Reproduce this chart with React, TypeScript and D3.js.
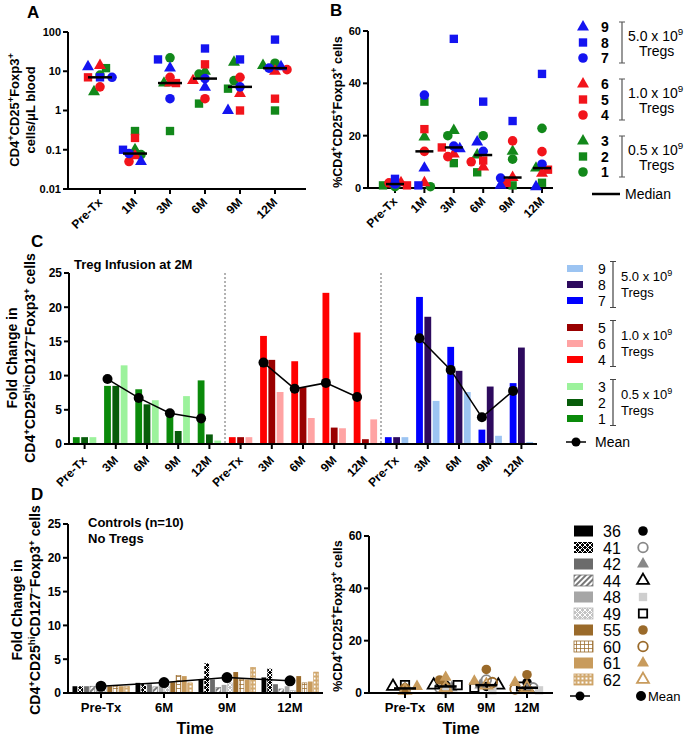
import React from 'react';
import * as d3 from 'd3';

const FONT = "'Liberation Sans', Arial, Helvetica, sans-serif";

// ---- panels A & B: Treg recipients 1-9 ----
const timesAB = ['Pre-Tx', '1M', '3M', '6M', '9M', '12M'];
const subjects = ['1', '2', '3', '4', '5', '6', '7', '8', '9'];
// CD4+CD25+Foxp3+ cells/uL blood, one row per subject, columns follow timesAB
const countA = [
  [8, 0.075, 22, 8.5, 5.8, 16],
  [12, 0.3, 0.3, 1.5, 3.6, 1],
  [3, 0.1, 5, 10, 17, 14],
  [4, 0.05, 7, 2, 7, 11],
  [7, 0.2, 5, 15, 1, 2],
  [14, 0.07, 5, 5.8, 2.7, 10],
  [7, 0.08, 2, 6.5, 4, 12],
  [7, 0.1, 20, 38, 20, 64],
  [13, 0.05, 12, 3.9, 1, 13],
];
// %CD4+CD25+Foxp3+ cells
const pctB = [
  [0.5, 0.5, 20, 20, 11, 22.8],
  [1, 33, 9.5, 6, 1, 2],
  [1.5, 19.5, 22, 12.6, 14, 7.6],
  [2, 14, 12, 10, 18, 13.9],
  [1, 22.5, 15.5, 10.5, 2, 7],
  [2, 2, 13, 8, 4, 5.6],
  [1.5, 35.5, 16, 14, 3.8, 9.1],
  [3.5, 1, 57, 33, 25.6, 43.6],
  [2, 7.6, 15, 17.6, 1, 0.5],
];
const doseText = ['5.0', '1.0', '0.5'];
const legendGroupsB = [['9', '8', '7'], ['6', '5', '4'], ['3', '2', '1']];

// ---- panel C: fold change per subject ----
const timesC = ['Pre-Tx', '3M', '6M', '9M', '12M'];
const groupsC = [['1', '2', '3'], ['4', '5', '6'], ['7', '8', '9']];
const foldC: Record<string, number[]> = {
  '1': [1, 8.5, 8.0, 4.6, 9.3],
  '2': [1, 8.5, 5.8, 1.9, 1.4],
  '3': [1, 11.5, 6.4, 7.0, 0.5],
  '4': [1, 15.8, 12.1, 22.1, 16.3],
  '5': [1, 12.3, 8.3, 2.4, 0.7],
  '6': [1, 7.6, 3.8, 2.3, 3.6],
  '7': [1, 21.5, 14.2, 2.1, 8.9],
  '8': [1, 18.6, 10.7, 8.4, 14.1],
  '9': [1, 6.3, 7.6, 1.2, 0.3],
};
const legendGroupsC = [['9', '8', '7'], ['5', '6', '4'], ['3', '2', '1']];

// ---- panel D: controls ----
const controls = ['36', '41', '42', '44', '48', '49', '55', '60', '61', '62'];
const timesD = ['Pre-Tx', '6M', '9M', '12M'];
const foldD = [
  [1, 1.5, 2.0, 2.3],
  [1, 1.4, 4.4, 3.6],
  [1, 1.3, 2.0, 1.3],
  [1, 0.9, 0.8, 0.6],
  [1, 1.2, 1.2, 1.0],
  [1, 1.0, 1.5, 0.4],
  [1, 1.6, 3.1, 2.5],
  [1, 2.6, 2.0, 1.5],
  [1, 2.5, 2.0, 1.7],
  [1, 1.5, 3.8, 3.1],
];
const pctD = [
  [1, 3, 2.5, 4],
  [1.5, 2, 5, 2],
  [2, 2, 3, 2],
  [2.5, 3, 3, 2],
  [1, 1, 1, 1],
  [3, 3, 2, 2.5],
  [2, 5, 9, 7],
  [1.5, 2, 4, 1.5],
  [2.5, 6, 4.5, 4],
  [1, 2, 3, 2],
];

// styles
const GREEN = '#12881a', RED = '#f2141b', BLUE = '#1414f0';
const colorOf: Record<string, string> = { '1': GREEN, '2': GREEN, '3': GREEN, '4': RED, '5': RED, '6': RED, '7': BLUE, '8': BLUE, '9': BLUE };
const shapeOf: Record<string, string> = { '1': 'circle', '2': 'square', '3': 'triangle', '4': 'circle', '5': 'square', '6': 'triangle', '7': 'circle', '8': 'square', '9': 'triangle' };
const barColor: Record<string, string> = {
  '1': '#0a8a0a', '2': '#075c0a', '3': '#9cf29c',
  '4': '#ff0000', '5': '#990000', '6': '#ffa3a3',
  '7': '#0000ff', '8': '#2d0a5e', '9': '#9cc4f2',
};
const ctrlFill = ['#000', 'url(#p41)', '#6b6b6b', 'url(#p44)', '#a6a6a6', 'url(#p49)', '#9a6a2a', 'url(#p60)', '#c89b5c', 'url(#p62)'];
const ctrlStroke = ['none', 'none', 'none', '#777', 'none', '#bbb', 'none', '#9a6a2a', 'none', '#c89b5c'];
const ctrlSym = [
  { shape: 'circle', fill: '#000', stroke: 'none' },
  { shape: 'circle', fill: 'none', stroke: '#888' },
  { shape: 'triangle', fill: '#888', stroke: 'none' },
  { shape: 'triangle', fill: 'none', stroke: '#000' },
  { shape: 'square', fill: '#cfcfcf', stroke: 'none' },
  { shape: 'square', fill: 'none', stroke: '#000' },
  { shape: 'circle', fill: '#9a6a2a', stroke: 'none' },
  { shape: 'circle', fill: 'none', stroke: '#9a6a2a' },
  { shape: 'triangle', fill: '#c89b5c', stroke: 'none' },
  { shape: 'triangle', fill: 'none', stroke: '#c89b5c' },
];

const SYM_SIZE: Record<string, number> = { circle: 72, square: 70, triangle: 62 };
function symbolPath(shape: string, size?: number) {
  const t = shape === 'square' ? d3.symbolSquare : shape === 'triangle' ? d3.symbolTriangle : d3.symbolCircle;
  return d3.symbol().type(t).size(size ?? SYM_SIZE[shape])() as string;
}

// spread overlapping points sideways, like a column scatter
function dodge(ys: number[], gap = 6.5, step = 6) {
  const order = ys.map((_, i) => i).sort((a, b) => ys[a] - ys[b]);
  const placed: { x: number; y: number }[] = [];
  const offs = ys.map(() => 0);
  const cands = [0, -step, step, -2 * step, 2 * step];
  for (const i of order) {
    let pick = 0;
    for (const c of cands) {
      if (placed.every(p => Math.hypot(p.x - c, p.y - ys[i]) >= gap)) { pick = c; break; }
    }
    offs[i] = pick;
    placed.push({ x: pick, y: ys[i] });
  }
  return offs;
}

type Part = [string, number];
function Rich({ parts, size, ...rest }: any) {
  let cur = 0;
  return (
    <text fontSize={size} {...rest}>
      {parts.map(([s, k]: Part, i: number) => {
        const target = k === 1 ? -size * 0.38 : 0;
        const dy = target - cur;
        cur = target;
        return <tspan key={i} dy={dy} fontSize={k ? size * 0.7 : size}>{s}</tspan>;
      })}
    </text>
  );
}

const ttlCells: Part[] = [['CD4', 0], ['+', 1], ['CD25', 0], ['+', 1], ['Foxp3', 0], ['+', 1]];
const ttlPct: Part[] = [['%CD4', 0], ['+', 1], ['CD25', 0], ['+', 1], ['Foxp3', 0], ['+', 1], [' cells', 0]];
const ttlFold: Part[] = [['CD4', 0], ['+', 1], ['CD25', 0], ['hi', 1], ['CD127', 0], ['−', 1], ['Foxp3', 0], ['+', 1], [' cells', 0]];

function YAxis({ x, scale, ticks, fmt, fontSize = 12 }: any) {
  const r = scale.range();
  return (
    <g>
      <line x1={x} x2={x} y1={Math.min(...r)} y2={Math.max(...r)} stroke="#000" strokeWidth={2} />
      {ticks.map((t: number) => (
        <g key={t}>
          <line x1={x - 5} x2={x} y1={scale(t)} y2={scale(t)} stroke="#000" strokeWidth={2} />
          <text x={x - 7} y={scale(t)} dy="0.36em" textAnchor="end" fontWeight="bold" fontSize={fontSize}>{fmt(t)}</text>
        </g>
      ))}
    </g>
  );
}

function XAxisLine({ y, x0, x1, ticks }: any) {
  return (
    <g>
      <line x1={x0} x2={x1} y1={y} y2={y} stroke="#000" strokeWidth={2} />
      {ticks.map((t: number, i: number) => (
        <line key={i} x1={t} x2={t} y1={y} y2={y + 5} stroke="#000" strokeWidth={2} />
      ))}
    </g>
  );
}

function RotLabels({ y, xs, labels, fontSize = 12, dy = 14 }: any) {
  return (
    <g>
      {labels.map((l: string, i: number) => (
        <text key={i} transform={`translate(${xs[i] + 3},${y + dy}) rotate(-45)`} textAnchor="end" fontWeight="bold" fontSize={fontSize}>{l}</text>
      ))}
    </g>
  );
}

function Scatter({ xScale, yScale, rows, times, shapes, fills, strokes, medianHalf }: any) {
  return (
    <g>
      {times.map((t: string, ti: number) => {
        const ys = rows.map((r: number[]) => yScale(r[ti]));
        const offs = dodge(ys);
        const cx = xScale(t);
        const med = d3.median(rows.map((r: number[]) => r[ti])) as number;
        return (
          <g key={t}>
            {rows.map((r: number[], si: number) => (
              <path key={si} d={symbolPath(shapes[si])} transform={`translate(${cx + offs[si]},${ys[si]})`}
                fill={fills[si]} stroke={strokes[si]} strokeWidth={strokes[si] === 'none' ? 0 : 1.8} />
            ))}
            <line x1={cx - medianHalf} x2={cx + medianHalf} y1={yScale(med)} y2={yScale(med)} stroke="#000" strokeWidth={2.5} />
          </g>
        );
      })}
    </g>
  );
}

export default function App() {
  // A
  const xA = d3.scalePoint().domain(timesAB).range([100, 275]);
  const yA = d3.scaleLog().domain([0.01, 100]).range([189, 32]);
  // B
  const xB = d3.scalePoint().domain(timesAB).range([395, 542]);
  const yB = d3.scaleLinear().domain([0, 60]).range([188, 31]);
  // C
  const idsC = groupsC.flatMap((_, g) => timesC.map(t => `${g}|${t}`));
  const xC = d3.scalePoint().domain(idsC).range([84.6, 521.4]);
  const yC = d3.scaleLinear().domain([0, 25]).range([444, 273]);
  // D
  const xDL = d3.scalePoint().domain(timesD).range([101, 290]);
  const yDL = d3.scaleLinear().domain([0, 25]).range([693, 524]);
  const xDR = d3.scalePoint().domain(timesD).range([405, 527]);
  const yDR = d3.scaleLinear().domain([0, 60]).range([693, 536]);

  const lineGen = d3.line<[number, number]>();
  const barStep = 8.3, barW = 6.8;
  const dStep = 5.8, dW = 4.8;

  const subjFills = subjects.map(s => colorOf[s]);
  const subjShapes = subjects.map(s => shapeOf[s]);

  return (
    <svg width={685} height={737} fontFamily={FONT} style={{ position: 'fixed', left: 0, top: 0 }}>
      <defs>
        <pattern id="p41" width="5" height="5" patternUnits="userSpaceOnUse">
          <rect width="5" height="5" fill="#000" />
          <path d="M0,0L5,5M5,0L0,5" stroke="#fff" strokeWidth="1" />
        </pattern>
        <pattern id="p44" width="4" height="4" patternUnits="userSpaceOnUse" patternTransform="rotate(45)">
          <rect width="4" height="4" fill="#fff" />
          <rect width="2" height="4" fill="#777" />
        </pattern>
        <pattern id="p49" width="5" height="5" patternUnits="userSpaceOnUse">
          <rect width="5" height="5" fill="#c4c4c4" />
          <path d="M0,0L5,5M5,0L0,5" stroke="#fff" strokeWidth="1" />
        </pattern>
        <pattern id="p60" width="4" height="4" patternUnits="userSpaceOnUse">
          <rect width="4" height="4" fill="#fff" />
          <path d="M0,0H4M0,0V4" stroke="#9a6a2a" strokeWidth="1.5" />
        </pattern>
        <pattern id="p62" width="4" height="4" patternUnits="userSpaceOnUse">
          <rect width="4" height="4" fill="#d2aa70" />
          <rect x="1.5" y="1.5" width="2" height="2" fill="#fff" />
        </pattern>
      </defs>
      <rect width={685} height={737} fill="#fff" />

      {/* ---------- A ---------- */}
      <text x={27} y={18} fontWeight="bold" fontSize={17}>A</text>
      <Rich parts={ttlCells} size={13} fontWeight="bold" textAnchor="middle" transform="translate(19,110) rotate(-90)" />
      <text transform="translate(35,110) rotate(-90)" textAnchor="middle" fontWeight="bold" fontSize={13}>cells/μL blood</text>
      <YAxis x={68} scale={yA} ticks={[0.01, 0.1, 1, 10, 100]} fmt={(t: number) => String(t)} fontSize={11} />
      <XAxisLine y={189} x0={68} x1={306} ticks={timesAB.map(t => xA(t))} />
      <RotLabels y={189} xs={timesAB.map(t => xA(t))} labels={timesAB} />
      <Scatter xScale={xA} yScale={yA} rows={countA} times={timesAB} shapes={subjShapes}
        fills={subjFills} strokes={subjects.map(() => 'none')} medianHalf={12} />

      {/* ---------- B ---------- */}
      <text x={330} y={16} fontWeight="bold" fontSize={17}>B</text>
      <Rich parts={ttlPct} size={12.5} fontWeight="bold" textAnchor="middle" transform="translate(342,112) rotate(-90)" />
      <YAxis x={368} scale={yB} ticks={[0, 20, 40, 60]} fmt={(t: number) => String(t)} fontSize={11} />
      <XAxisLine y={188} x0={368} x1={553} ticks={timesAB.map(t => xB(t))} />
      <RotLabels y={188} xs={timesAB.map(t => xB(t))} labels={timesAB} />
      <Scatter xScale={xB} yScale={yB} rows={pctB} times={timesAB} shapes={subjShapes}
        fills={subjFills} strokes={subjects.map(() => 'none')} medianHalf={9} />

      {/* legend B */}
      {legendGroupsB.map((grp, g) => {
        const rowY = (r: number) => 27 + g * 57 + r * 15.5;
        const gc = rowY(1);
        return (
          <g key={g}>
            {grp.map((s, r) => (
              <g key={s}>
                <path d={symbolPath(shapeOf[s])} transform={`translate(583,${rowY(r)})`} fill={colorOf[s]} />
                <text x={601} y={rowY(r) + 5} fontWeight="bold" fontSize={14}>{s}</text>
              </g>
            ))}
            <path d={`M619,${rowY(0) - 5}H625M622,${rowY(0) - 5}V${rowY(2) + 5}M619,${rowY(2) + 5}H625`} stroke="#555" strokeWidth={1.2} fill="none" />
            <Rich parts={[[`${doseText[g]} x 10`, 0], ['9', 1]]} size={14} x={628} y={gc - 2} />
            <text x={639} y={gc + 13} fontSize={14}>Tregs</text>
          </g>
        );
      })}
      <line x1={592} x2={620} y1={194} y2={194} stroke="#000" strokeWidth={2.5} />
      <text x={625} y={199} fontSize={14}>Median</text>

      {/* ---------- C ---------- */}
      <text x={31} y={247} fontWeight="bold" fontSize={17}>C</text>
      <text transform="translate(17,358) rotate(-90)" textAnchor="middle" fontWeight="bold" fontSize={14}>Fold Change in</text>
      <Rich parts={ttlFold} size={14} fontWeight="bold" textAnchor="middle" transform="translate(35,358) rotate(-90)" />
      <text x={74} y={269} fontWeight="bold" fontSize={13}>Treg Infusion at 2M</text>
      <YAxis x={69} scale={yC} ticks={[0, 5, 10, 15, 20, 25]} fmt={(t: number) => String(t)} fontSize={12} />
      {[1, 2].map(g => {
        const xd = ((xC(`${g - 1}|12M`) as number) + (xC(`${g}|Pre-Tx`) as number)) / 2;
        return <line key={g} x1={xd} x2={xd} y1={273} y2={444} stroke="#666" strokeWidth={1} strokeDasharray="2,2" />;
      })}
      {groupsC.map((grp, g) => (
        <g key={g}>
          {timesC.map((t, ti) => {
            const cx = xC(`${g}|${t}`) as number;
            return grp.map((s, k) => (
              <rect key={t + s} x={cx + (k - 1) * barStep - barW / 2} y={yC(foldC[s][ti])} width={barW}
                height={yC(0) - yC(foldC[s][ti])} fill={barColor[s]} />
            ));
          })}
          {(() => {
            const pts = timesC.slice(1).map((t, i) => [
              (xC(`${g}|${t}`) as number) - barStep,
              yC(d3.mean(grp, s => foldC[s][i + 1]) as number),
            ] as [number, number]);
            return (
              <g>
                <path d={lineGen(pts) as string} fill="none" stroke="#000" strokeWidth={1.5} />
                {pts.map((p, i) => <circle key={i} cx={p[0]} cy={p[1]} r={5} fill="#000" />)}
              </g>
            );
          })()}
        </g>
      ))}
      <XAxisLine y={444} x0={69} x1={537} ticks={idsC.map(id => xC(id))} />
      <RotLabels y={444} xs={idsC.map(id => xC(id))} labels={idsC.map(id => id.split('|')[1])} fontSize={12} dy={17} />

      {/* legend C */}
      {legendGroupsC.map((grp, g) => {
        const rowY = (r: number) => 268.5 + g * 59 + r * 16;
        const gc = rowY(1);
        return (
          <g key={g}>
            {grp.map((s, r) => (
              <g key={s}>
                <rect x={567} y={rowY(r) - 3.5} width={16} height={7} fill={barColor[s]} />
                <text x={598} y={rowY(r) + 5} fontSize={14}>{s}</text>
              </g>
            ))}
            <path d={`M610,${rowY(0) - 7}H616M613,${rowY(0) - 7}V${rowY(2) + 7}M610,${rowY(2) + 7}H616`} stroke="#444" strokeWidth={1.2} fill="none" />
            <Rich parts={[[`${doseText[g]} x 10`, 0], ['9', 1]]} size={13} x={621} y={gc - 4} />
            <text x={621} y={gc + 12} fontSize={13}>Tregs</text>
          </g>
        );
      })}
      <line x1={566} x2={586} y1={442} y2={442} stroke="#000" strokeWidth={1.5} />
      <circle cx={576} cy={442} r={4.5} fill="#000" />
      <text x={595} y={447} fontSize={14}>Mean</text>

      {/* ---------- D left ---------- */}
      <text x={31} y={500} fontWeight="bold" fontSize={17}>D</text>
      <text transform="translate(22,610) rotate(-90)" textAnchor="middle" fontWeight="bold" fontSize={14}>Fold Change in</text>
      <Rich parts={ttlFold} size={14} fontWeight="bold" textAnchor="middle" transform="translate(40,610) rotate(-90)" />
      <text x={88} y={527} fontWeight="bold" fontSize={13}>Controls (n=10)</text>
      <text x={88} y={543} fontWeight="bold" fontSize={13}>No Tregs</text>
      <YAxis x={68} scale={yDL} ticks={[0, 5, 10, 15, 20, 25]} fmt={(t: number) => String(t)} fontSize={12} />
      {timesD.map((t, ti) => {
        const cx = xDL(t) as number;
        return controls.map((c, i) => (
          <rect key={t + c} x={cx + (i - 4.5) * dStep - dW / 2} y={yDL(foldD[i][ti])} width={dW}
            height={yDL(0) - yDL(foldD[i][ti])} fill={ctrlFill[i]} stroke={ctrlStroke[i]} strokeWidth={0.6} />
        ));
      })}
      {(() => {
        const pts = timesD.map((t, ti) => [xDL(t) as number, yDL(d3.mean(foldD, r => r[ti]) as number)] as [number, number]);
        return (
          <g>
            <path d={lineGen(pts) as string} fill="none" stroke="#000" strokeWidth={1.5} />
            {pts.map((p, i) => <circle key={i} cx={p[0]} cy={p[1]} r={5.5} fill="#000" />)}
          </g>
        );
      })()}
      <XAxisLine y={693} x0={68} x1={323} ticks={timesD.map(t => xDL(t))} />
      {timesD.map(t => (
        <text key={t} x={xDL(t)} y={712} textAnchor="middle" fontWeight="bold" fontSize={13}>{t}</text>
      ))}
      <text x={195} y={734} textAnchor="middle" fontWeight="bold" fontSize={16}>Time</text>

      {/* ---------- D right ---------- */}
      <Rich parts={ttlPct} size={12.5} fontWeight="bold" textAnchor="middle" transform="translate(342,616) rotate(-90)" />
      <YAxis x={369} scale={yDR} ticks={[0, 20, 40, 60]} fmt={(t: number) => String(t)} fontSize={12} />
      <Scatter xScale={xDR} yScale={yDR} rows={pctD} times={timesD} shapes={ctrlSym.map(s => s.shape)}
        fills={ctrlSym.map(s => s.fill)} strokes={ctrlSym.map(s => s.stroke)} medianHalf={11} />
      <XAxisLine y={693} x0={369} x1={553} ticks={timesD.map(t => xDR(t))} />
      {timesD.map(t => (
        <text key={t} x={xDR(t)} y={712} textAnchor="middle" fontWeight="bold" fontSize={13}>{t}</text>
      ))}
      <text x={461} y={734} textAnchor="middle" fontWeight="bold" fontSize={16}>Time</text>

      {/* legend D */}
      {controls.map((c, i) => {
        const y = 531 + i * 16.5;
        const sym = ctrlSym[i];
        return (
          <g key={c}>
            <rect x={574} y={y - 5.5} width={19} height={11} fill={ctrlFill[i]} stroke={ctrlStroke[i]} strokeWidth={0.8} />
            <text x={603} y={y + 6} fontSize={16}>{c}</text>
            <path d={symbolPath(sym.shape)} transform={`translate(643,${y})`} fill={sym.fill} stroke={sym.stroke}
              strokeWidth={sym.stroke === 'none' ? 0 : 1.8} />
          </g>
        );
      })}
      <line x1={570} x2={590} y1={696} y2={696} stroke="#000" strokeWidth={1.5} />
      <circle cx={580} cy={696} r={4.5} fill="#000" />
      <circle cx={641} cy={696} r={5} fill="#000" />
      <text x={648} y={701} fontSize={13}>Mean</text>
    </svg>
  );
}
